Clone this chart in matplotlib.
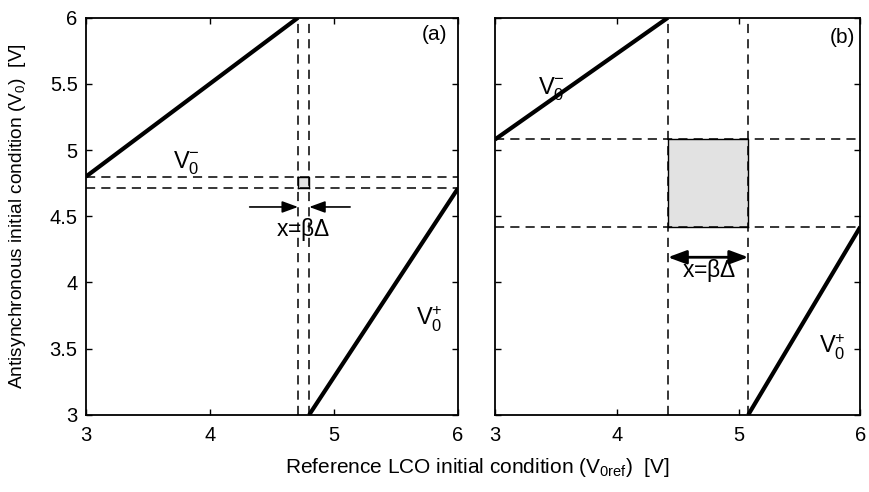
import matplotlib
matplotlib.use("Agg")
import matplotlib.pyplot as plt
import matplotlib.patches as patches

plt.rcParams['font.family'] = ['Liberation Sans', 'DejaVu Sans']
plt.rcParams['mathtext.fontset'] = 'custom'
plt.rcParams['mathtext.rm'] = 'Liberation Sans'
plt.rcParams['mathtext.it'] = 'Liberation Sans'
plt.rcParams['mathtext.bf'] = 'Liberation Sans'

# panel (a): narrow overlap window
a_minus_x = [3.0, 4.71]
a_minus_y = [4.8, 6.0]
a_plus_x = [4.8, 6.0]
a_plus_y = [3.0, 4.71]
a_edges = [4.71, 4.8]

# panel (b): wide window
b_minus_x = [3.0, 4.42]
b_minus_y = [5.08, 6.0]
b_plus_x = [5.08, 6.0]
b_plus_y = [3.0, 4.42]
b_edges = [4.42, 5.08]

ticks = [3, 4, 5, 6]
yticks = [3, 3.5, 4, 4.5, 5, 5.5, 6]
ytick_labels = ['3', '3.5', '4', '4.5', '5', '5.5', '6']

fig = plt.figure(figsize=(8.69, 4.92), dpi=100)
ax1 = fig.add_axes([0.099, 0.157, 0.428, 0.807])
ax2 = fig.add_axes([0.5696, 0.157, 0.4204, 0.807])

dash = (0, (6, 4))


def setup(ax, show_y):
    ax.set_xlim(3, 6)
    ax.set_ylim(3, 6)
    ax.set_xticks(ticks)
    ax.set_yticks(yticks)
    ax.set_xticklabels([str(t) for t in ticks])
    if show_y:
        ax.set_yticklabels(ytick_labels)
    else:
        ax.set_yticklabels([])
    ax.tick_params(direction='in', length=4, width=1, labelsize=14.5,
                   top=True, right=True)
    ax.tick_params(axis='x', pad=8)
    ax.tick_params(axis='y', pad=6)
    for s in ax.spines.values():
        s.set_linewidth(1.3)


def panel(ax, mx, my, px, py, edges):
    lo, hi = edges
    ax.add_patch(patches.Rectangle((lo, lo), hi - lo, hi - lo,
                                   facecolor='#e2e2e2', edgecolor='none'))
    for v in edges:
        ax.axvline(v, color='black', lw=1.1, linestyle=dash)
        ax.axhline(v, color='black', lw=1.1, linestyle=dash)
    ax.plot([lo, hi, hi], [hi, hi, lo], color='black', lw=1)
    ax.plot([lo, lo], [lo, hi], color='black', lw=1)
    ax.plot([lo, hi], [lo, lo], color='black', lw=1)
    ax.plot(mx, my, color='black', lw=3, solid_capstyle='butt')
    ax.plot(px, py, color='black', lw=3, solid_capstyle='butt')


setup(ax1, True)
setup(ax2, False)
panel(ax1, a_minus_x, a_minus_y, a_plus_x, a_plus_y, a_edges)
panel(ax2, b_minus_x, b_minus_y, b_plus_x, b_plus_y, b_edges)

arrow = dict(arrowstyle='-|>,head_length=0.6,head_width=0.22', color='black',
             lw=1.2, mutation_scale=16, shrinkA=0, shrinkB=0)
ax1.annotate('', xy=(a_edges[0], 4.57), xytext=(4.32, 4.57), arrowprops=arrow)
ax1.annotate('', xy=(a_edges[1], 4.57), xytext=(5.13, 4.57), arrowprops=arrow)
ax1.text(4.75, 4.40, r'x=$\mathregular{\beta\Delta}$', fontsize=16.5,
         ha='center', va='center')

arrow2 = dict(arrowstyle='<|-|>,head_length=0.7,head_width=0.26', color='black',
              lw=2, mutation_scale=16, shrinkA=0, shrinkB=0)
ax2.annotate('', xy=(b_edges[1], 4.19), xytext=(b_edges[0], 4.19),
             arrowprops=arrow2)
ax2.text(4.76, 4.09, r'x=$\mathregular{\beta\Delta}$', fontsize=16.5,
         ha='center', va='center')

vsize = 17
ax1.text(3.81, 4.9, r'$\mathregular{V_0^{-}}$', fontsize=vsize, ha='center', va='center')
ax1.text(5.77, 3.72, r'$\mathregular{V_0^{+}}$', fontsize=vsize, ha='center', va='center')
ax2.text(3.46, 5.46, r'$\mathregular{V_0^{-}}$', fontsize=vsize, ha='center', va='center')
ax2.text(5.77, 3.51, r'$\mathregular{V_0^{+}}$', fontsize=vsize, ha='center', va='center')

ax1.text(5.81, 5.87, '(a)', fontsize=15, ha='center', va='center')
ax2.text(5.85, 5.85, '(b)', fontsize=15, ha='center', va='center')

ax1.set_ylabel(r'Antisynchronous initial condition (V$_{\mathregular{0}}$)  [V]',
               fontsize=13.8)
ax1.yaxis.set_label_coords(-0.156, 0.5)
fig.text(0.549, 0.049,
         r'Reference LCO initial condition (V$_{\mathregular{0ref}}$)  [V]',
         fontsize=15, ha='center', va='center')

fig.savefig('out.png', dpi=100)
